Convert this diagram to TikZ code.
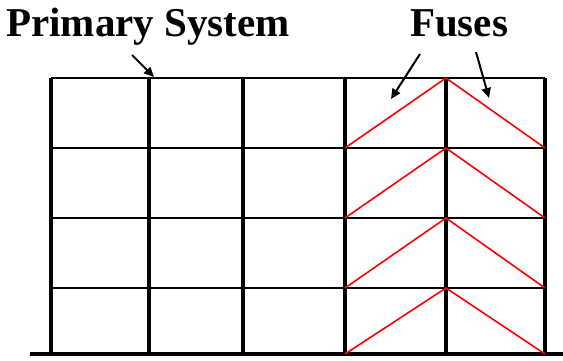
\documentclass[tikz,border=0pt]{standalone}
\usepackage{fontspec}
\setmainfont{Liberation Serif}
\usetikzlibrary{arrows.meta}
\begin{document}
\begin{tikzpicture}[x=1pt,y=-1pt,
  col/.style={line width=4pt},
  beam/.style={line width=2.6pt},
  fuse/.style={red,line width=1.6pt},
  lbl/.style={font=\fontsize{41}{45}\selectfont\bfseries,inner sep=0pt},
  ptr/.style={line width=2pt,-{Triangle[length=10pt,width=9pt]}}]
\useasboundingbox (0,0) rectangle (563,360);
% columns x positions
\foreach \x in {51,149,243,345,446,545} \draw[col] (\x,78) -- (\x,354);
% beams
\draw[line width=2.2pt] (51,78) -- (545,78);
\foreach \y in {148,218,288} \draw[beam] (51,\y) -- (545,\y);
% ground
\draw[line width=3.5pt] (30,354) -- (563,354);
% fuses
\foreach \t/\b in {78/148,148/218,218/288,288/354}{
  \draw[fuse] (345,\b) -- (446,\t) -- (545,\b);
}
% labels
\node[lbl,anchor=base] (ps) at (148,36) {Primary System};
\node[lbl,anchor=base] (fu) at (459,36) {Fuses};
\coordinate (p1) at (132,55);
\coordinate (p2) at (154,77);
\coordinate (f1) at (420,54);
\coordinate (f2) at (391,99);
\coordinate (g1) at (476,52);
\coordinate (g2) at (489,98);
\draw[ptr] (p1) -- (p2);
\draw[ptr] (f1) -- (f2);
\draw[ptr] (g1) -- (g2);
\end{tikzpicture}
\end{document}
